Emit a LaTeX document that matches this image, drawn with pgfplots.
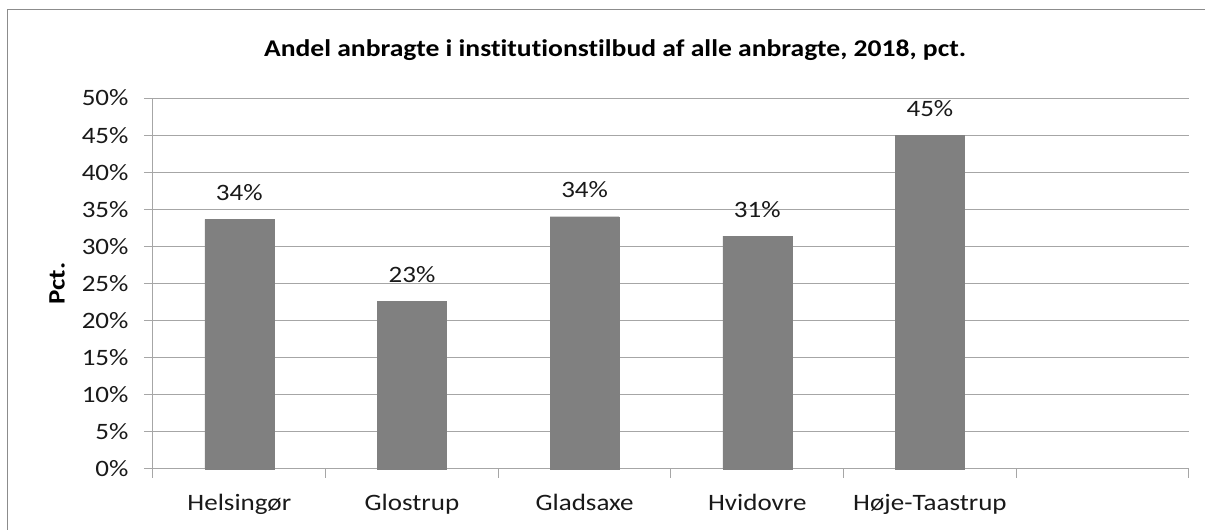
\documentclass[border=0pt]{standalone}
\usepackage{pgfplots}
\pgfplotsset{compat=1.18}
\usepackage{fontspec}
\setmainfont[FakeStretch=1.15, Ligatures=NoCommon]{Carlito}
\definecolor{gridc}{RGB}{166,166,166}
\definecolor{barc}{RGB}{128,128,128}
\definecolor{txt}{RGB}{25,25,25}
\definecolor{frame}{RGB}{140,140,140}
\newcommand\fs{\fontsize{23.5}{28}\selectfont}
\begin{document}
\begin{tikzpicture}
\useasboundingbox (-153pt,-61pt) rectangle (1052pt,469pt);
\draw[color=frame, line width=1pt] (-145pt,-70pt) -- (-145pt,459pt) -- (1060pt,459pt);
\begin{axis}[
  at={(0pt,0pt)}, anchor=south west,
  scale only axis, width=1036pt, height=371pt,
  xmin=-0.5, xmax=5.5, ymin=0, ymax=50,
  axis x line=bottom, axis y line=left,
  axis line style={draw=gridc, line width=1pt, -},
  ytick={0,5,...,50},
  yticklabels={0\%,5\%,10\%,15\%,20\%,25\%,30\%,35\%,40\%,45\%,50\%},
  ymajorgrids, major grid style={draw=gridc, line width=1pt},
  tick align=outside, major tick length=9pt,
  tick style={draw=gridc, line width=1pt},
  xtick={0,1,2,3,4},
  xticklabels={Helsingør,Glostrup,Gladsaxe,Hvidovre,Høje-Taastrup},
  major x tick style={draw=none},
  extra x ticks={-0.5,0.5,1.5,2.5,3.5,4.5,5.5},
  extra x tick labels={},
  extra x tick style={major x tick style={draw=gridc, line width=1pt}, grid=none},
  ticklabel style={font=\fs, text=txt},
  yticklabel style={anchor=east, xshift=-12pt},
  xticklabel style={anchor=base, yshift=-32pt},
  title={Andel anbragte i institutionstilbud af alle anbragte, 2018, pct.},
  title style={at={(0.446,1)}, anchor=base, yshift=36pt, font=\bfseries\fontsize{24}{29}\selectfont, text=black},
  ylabel={Pct.},
  ylabel style={at={(axis description cs:-0.0927,0.5)}, anchor=center, font=\bfseries\fs, text=black},
  ybar, bar width=69pt,
  nodes near coords={\pgfmathprintnumber[fixed,precision=0,assume math mode=true]{\pgfplotspointmeta}\%},
  nodes near coords style={font=\fs, text=txt, anchor=base, yshift=19pt},
  clip=false,
]
\addplot[fill=barc, draw=barc] coordinates {(0,33.65) (1,22.55) (2,34.0) (3,31.4) (4,45.0)};
\end{axis}
\end{tikzpicture}
\end{document}
